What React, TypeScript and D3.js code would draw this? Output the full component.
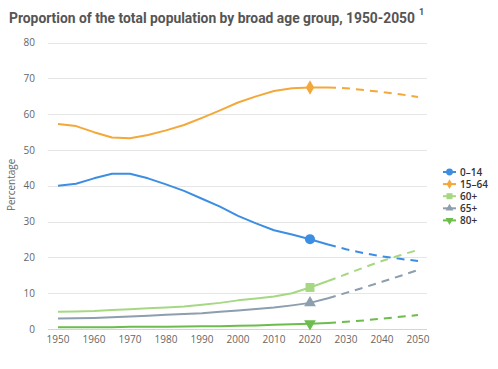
import { useEffect, useRef } from 'react';
import * as d3 from 'd3';

const years = [1950, 1955, 1960, 1965, 1970, 1975, 1980, 1985, 1990, 1995, 2000, 2005, 2010, 2015, 2020, 2025, 2030, 2035, 2040, 2045, 2050];

const age0to14 = [40.0, 40.6, 42.1, 43.4, 43.4, 42.1, 40.4, 38.6, 36.4, 34.2, 31.6, 29.5, 27.6, 26.4, 25.1, 23.6, 22.3, 21.2, 20.3, 19.6, 19.0];
const age15to64 = [57.3, 56.7, 55.0, 53.5, 53.3, 54.2, 55.5, 57.0, 59.0, 61.1, 63.3, 65.0, 66.5, 67.3, 67.5, 67.5, 67.3, 66.8, 66.2, 65.6, 64.8];
const age60plus = [4.8, 4.9, 5.0, 5.3, 5.5, 5.8, 6.0, 6.3, 6.8, 7.3, 8.0, 8.5, 9.1, 10.0, 11.6, 13.4, 15.3, 17.2, 19.0, 20.6, 22.1];
const age65plus = [2.9, 3.0, 3.1, 3.3, 3.5, 3.7, 4.0, 4.2, 4.4, 4.8, 5.2, 5.6, 6.0, 6.6, 7.3, 8.6, 10.1, 11.6, 13.2, 14.8, 16.5];
const age80plus = [0.5, 0.5, 0.5, 0.5, 0.6, 0.6, 0.6, 0.7, 0.8, 0.8, 0.9, 1.0, 1.2, 1.3, 1.5, 1.7, 2.0, 2.4, 2.9, 3.4, 3.9];

const yTicks = [0, 10, 20, 30, 40, 50, 60, 70, 80];
const xTicks = [1950, 1960, 1970, 1980, 1990, 2000, 2010, 2020, 2030, 2040, 2050];

const seriesList = [
  { name: '0–14', values: age0to14, color: '#3d8ee2', symbol: d3.symbolCircle, size: 80 },
  { name: '15–64', values: age15to64, color: '#f4a83a', symbol: d3.symbolDiamond, size: 60 },
  { name: '60+', values: age60plus, color: '#a6d884', symbol: d3.symbolSquare, size: 80 },
  { name: '65+', values: age65plus, color: '#8d9eae', symbol: d3.symbolTriangle, size: 60 },
  { name: '80+', values: age80plus, color: '#6cbd4c', symbol: d3.symbolTriangle, size: 60, down: true },
];

const markerYear = 2020;
const solidUntil = 2025;

export default function App() {
  const svgRef = useRef<SVGSVGElement>(null);

  useEffect(() => {
    if (!svgRef.current) return;
    const svg = d3.select(svgRef.current);
    svg.selectAll('*').remove();

    const plotLeft = 48;
    const plotRight = 427;

    const x = d3.scaleLinear().domain([1950, 2050]).range([58, 418]);
    const y = d3.scaleLinear().domain([0, 80]).range([329, 42.7]);

    // title
    svg.append('text')
      .attr('x', 9)
      .attr('y', 23)
      .attr('font-family', 'Roboto')
      .attr('font-weight', 700)
      .attr('font-size', 15.5)
      .attr('fill', '#555')
      .attr('textLength', 406)
      .attr('lengthAdjust', 'spacingAndGlyphs')
      .text('Proportion of the total population by broad age group, 1950-2050');
    svg.append('text')
      .attr('x', 419)
      .attr('y', 15)
      .attr('font-family', 'Roboto')
      .attr('font-weight', 700)
      .attr('font-size', 9)
      .attr('fill', '#555')
      .text('1');

    // grid
    svg.append('g')
      .selectAll('line')
      .data(yTicks.filter(t => t > 0))
      .enter().append('line')
      .attr('x1', plotLeft)
      .attr('x2', plotRight)
      .attr('y1', d => Math.round(y(d)) + 0.5)
      .attr('y2', d => Math.round(y(d)) + 0.5)
      .attr('stroke', '#e6e6e6');

    svg.append('line')
      .attr('x1', plotLeft)
      .attr('x2', plotRight)
      .attr('y1', Math.round(y(0)) + 0.5)
      .attr('y2', Math.round(y(0)) + 0.5)
      .attr('stroke', '#ccd6eb');

    // y labels
    svg.append('g')
      .selectAll('text')
      .data(yTicks)
      .enter().append('text')
      .attr('x', 35)
      .attr('y', d => y(d) + 3.5)
      .attr('text-anchor', 'end')
      .attr('font-family', 'Open Sans')
      .attr('font-size', 10)
      .attr('fill', '#666')
      .text(d => d);

    // x labels
    svg.append('g')
      .selectAll('text')
      .data(xTicks)
      .enter().append('text')
      .attr('x', d => x(d))
      .attr('y', 343)
      .attr('text-anchor', 'middle')
      .attr('font-family', 'Open Sans')
      .attr('font-size', 10)
      .attr('fill', '#666')
      .text(d => d);

    svg.append('text')
      .attr('transform', `translate(15,${y(40) - 1}) rotate(-90)`)
      .attr('text-anchor', 'middle')
      .attr('font-family', 'Open Sans')
      .attr('font-size', 10)
      .attr('fill', '#666')
      .text('Percentage');

    const line = d3.line<[number, number]>()
      .x(d => x(d[0]))
      .y(d => y(d[1]));

    seriesList.forEach(s => {
      const pts: [number, number][] = years.map((yr, i) => [yr, s.values[i]]);
      const solid = pts.filter(p => p[0] <= solidUntil);
      const dashed = pts.filter(p => p[0] >= solidUntil);

      svg.append('path')
        .datum(solid)
        .attr('fill', 'none')
        .attr('stroke', s.color)
        .attr('stroke-width', 2)
        .attr('stroke-linejoin', 'round')
        .attr('d', line);

      svg.append('path')
        .datum(dashed)
        .attr('fill', 'none')
        .attr('stroke', s.color)
        .attr('stroke-width', 2)
        .attr('stroke-dasharray', '8,6')
        .attr('d', line);

      const idx = years.indexOf(markerYear);
      svg.append('path')
        .attr('d', d3.symbol(s.symbol, s.size)()!)
        .attr('transform', `translate(${x(markerYear)},${y(s.values[idx])})${s.down ? ' rotate(180)' : ''}`)
        .attr('fill', s.color);
    });

    // legend
    const legend = svg.append('g');
    seriesList.forEach((s, i) => {
      const ly = 172 + i * 12.1;
      legend.append('line')
        .attr('x1', 443)
        .attr('x2', 456)
        .attr('y1', ly)
        .attr('y2', ly)
        .attr('stroke', s.color)
        .attr('stroke-width', 2);
      legend.append('path')
        .attr('d', d3.symbol(s.symbol, s.size * 0.45)()!)
        .attr('transform', `translate(449.5,${ly})${s.down ? ' rotate(180)' : ''}`)
        .attr('fill', s.color);
      legend.append('text')
        .attr('x', 460)
        .attr('y', ly + 3.5)
        .attr('font-family', 'Open Sans')
        .attr('font-size', 10)
        .attr('font-weight', 600)
        .attr('fill', '#333')
        .text(s.name);
    });
  }, []);

  return (
    <svg
      ref={svgRef}
      width={498}
      height={369}
      style={{ position: 'absolute', left: 0, top: 0, background: '#fff' }}
    />
  );
}
